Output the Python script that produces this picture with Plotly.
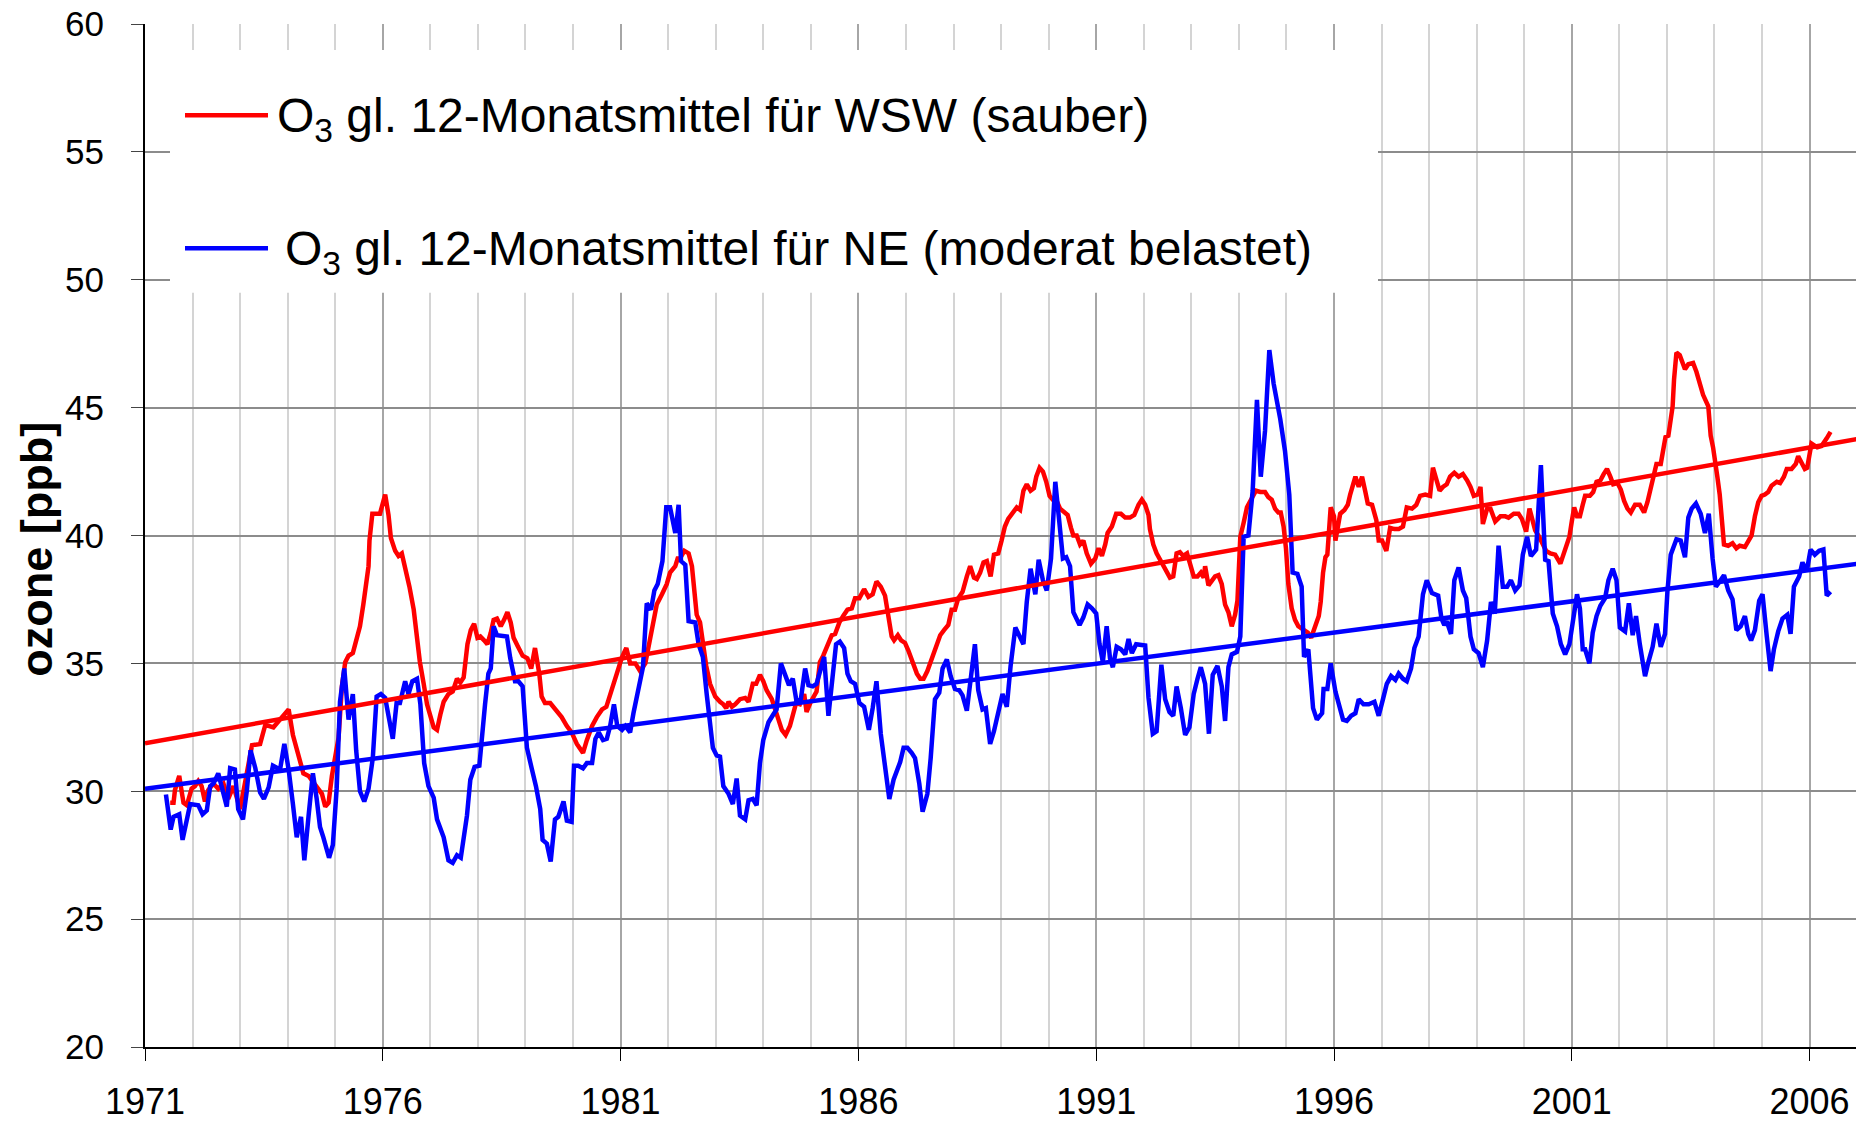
import plotly.graph_objects as go

# ---------------- data ----------------
wsw_year = [1971.53, 1971.60, 1971.63, 1971.72, 1971.77, 1971.81, 1971.88, 1971.95, 1971.98, 1972.05,
            1972.12, 1972.19, 1972.26, 1972.33, 1972.44, 1972.54, 1972.65, 1972.75, 1972.86, 1973.00,
            1973.14, 1973.25, 1973.42, 1973.53, 1973.70, 1973.81, 1973.91, 1974.02, 1974.11, 1974.23,
            1974.33, 1974.44, 1974.61, 1974.72, 1974.79, 1974.86, 1974.93, 1975.00, 1975.07, 1975.14,
            1975.21, 1975.28, 1975.37, 1975.42, 1975.52, 1975.59, 1975.65, 1975.70, 1975.72, 1975.78,
            1975.94, 1976.01, 1976.05, 1976.12, 1976.17, 1976.26, 1976.33, 1976.40, 1976.47, 1976.56,
            1976.65, 1976.72, 1976.78, 1976.86, 1976.93,
            1977.07, 1977.14, 1977.21, 1977.28, 1977.38, 1977.47, 1977.56, 1977.63, 1977.70, 1977.73,
            1977.78, 1977.85, 1977.92, 1977.99, 1978.05, 1978.13, 1978.20, 1978.27, 1978.33, 1978.40,
            1978.48, 1978.55, 1978.62, 1978.69, 1978.75, 1978.83, 1978.94, 1979.04, 1979.12, 1979.20,
            1979.29, 1979.34, 1979.41, 1979.52, 1979.62, 1979.76, 1979.87, 1979.97, 1980.08, 1980.21,
            1980.29, 1980.40, 1980.50, 1980.61, 1980.70, 1980.78, 1980.85, 1980.93, 1981.03, 1981.12,
            1981.20, 1981.31, 1981.41, 1981.52, 1981.62, 1981.69, 1981.76, 1981.87, 1981.97, 1982.04,
            1982.15, 1982.20, 1982.25, 1982.34, 1982.43, 1982.50, 1982.57, 1982.60, 1982.67, 1982.73,
            1982.80, 1982.88, 1982.99, 1983.09,
            1983.16, 1983.22, 1983.27, 1983.34, 1983.41, 1983.51, 1983.62, 1983.69, 1983.78, 1983.85,
            1983.93, 1984.00, 1984.07, 1984.18, 1984.25, 1984.32, 1984.39, 1984.47, 1984.56, 1984.63,
            1984.69, 1984.77, 1984.86, 1984.91, 1985.00, 1985.12, 1985.19, 1985.26, 1985.33, 1985.44,
            1985.51, 1985.60, 1985.68, 1985.77, 1985.86, 1985.93, 1986.02, 1986.12, 1986.21, 1986.30,
            1986.38, 1986.47, 1986.56, 1986.63, 1986.70, 1986.75, 1986.83, 1986.90, 1986.98, 1987.05,
            1987.12, 1987.23, 1987.30, 1987.37, 1987.45, 1987.54, 1987.63, 1987.72, 1987.80, 1987.89,
            1987.96, 1988.03, 1988.10, 1988.19, 1988.28, 1988.35, 1988.43, 1988.49, 1988.56, 1988.63,
            1988.70, 1988.78, 1988.85, 1988.94, 1989.01, 1989.08, 1989.15,
            1989.26, 1989.33, 1989.40, 1989.47, 1989.54, 1989.62, 1989.69, 1989.74, 1989.81, 1989.88,
            1989.95, 1990.02, 1990.09, 1990.17, 1990.24, 1990.33, 1990.40, 1990.47, 1990.52, 1990.59,
            1990.66, 1990.73, 1990.80, 1990.89, 1990.98, 1991.05, 1991.12, 1991.19, 1991.24, 1991.33,
            1991.42, 1991.52, 1991.61, 1991.71, 1991.80, 1991.89, 1991.96, 1992.03, 1992.10, 1992.13,
            1992.20, 1992.27, 1992.34, 1992.41, 1992.48, 1992.55, 1992.62, 1992.69, 1992.76, 1992.83,
            1992.91, 1992.98, 1993.05, 1993.13, 1993.20, 1993.26, 1993.29, 1993.36, 1993.43, 1993.50,
            1993.57, 1993.64, 1993.71, 1993.78, 1993.85, 1993.92, 1993.97, 1994.03, 1994.10, 1994.17,
            1994.24, 1994.31, 1994.36, 1994.45, 1994.55, 1994.62, 1994.69, 1994.76, 1994.83, 1994.88,
            1994.94, 1994.99, 1995.04, 1995.11, 1995.18, 1995.25, 1995.36, 1995.45,
            1995.52, 1995.61, 1995.68, 1995.72, 1995.77, 1995.82, 1995.86, 1995.93, 1996.00, 1996.03,
            1996.10, 1996.13, 1996.22, 1996.29, 1996.34, 1996.40, 1996.45, 1996.52, 1996.59, 1996.66,
            1996.71, 1996.80, 1996.89, 1996.94, 1997.01, 1997.10, 1997.18, 1997.27, 1997.36, 1997.45,
            1997.53, 1997.64, 1997.73, 1997.81, 1997.92, 1998.02, 1998.08, 1998.15, 1998.22, 1998.29,
            1998.37, 1998.44, 1998.53, 1998.62, 1998.71, 1998.80, 1998.87, 1998.94, 1999.02, 1999.08,
            1999.13, 1999.22, 1999.29, 1999.39, 1999.50, 1999.60, 1999.67, 1999.78, 1999.88, 1999.95,
            2000.04, 2000.11, 2000.16, 2000.23, 2000.30, 2000.37, 2000.46, 2000.55, 2000.65, 2000.76,
            2000.83, 2000.90, 2000.95, 2001.00, 2001.05, 2001.11, 2001.17,
            2001.23, 2001.28, 2001.38, 2001.45, 2001.52, 2001.60, 2001.67, 2001.74, 2001.81, 2001.87,
            2001.96, 2002.03, 2002.10, 2002.17, 2002.24, 2002.33, 2002.43, 2002.52, 2002.59, 2002.63,
            2002.68, 2002.73, 2002.78, 2002.87, 2002.92, 2002.97, 2003.03, 2003.06, 2003.12, 2003.15,
            2003.20, 2003.27, 2003.38, 2003.45, 2003.55, 2003.62, 2003.69, 2003.76, 2003.87, 2003.92,
            2003.97, 2004.01, 2004.06, 2004.11, 2004.17, 2004.20, 2004.29, 2004.38, 2004.46, 2004.53,
            2004.64, 2004.71, 2004.78, 2004.85, 2004.92, 2004.99, 2005.06, 2005.13, 2005.20, 2005.31,
            2005.38, 2005.46, 2005.52, 2005.62, 2005.71, 2005.76, 2005.83, 2005.90, 2005.95, 2006.01,
            2006.04, 2006.16, 2006.25, 2006.36, 2006.44]
wsw_val = [29.55, 29.55, 30.05, 30.6, 30.0, 29.55, 29.45, 29.9, 30.1, 30.2,
           30.4, 30.2, 29.6, 30.05, 30.3, 30.1, 30.3, 29.7, 30.2, 29.3,
           30.8, 31.8, 31.85, 32.6, 32.5, 32.75, 33.0, 33.2, 32.2, 31.3,
           30.7, 30.6, 30.2, 29.9, 29.4, 29.55, 30.6, 31.3, 32.1, 34.1,
           35.05, 35.3, 35.4, 35.75, 36.45, 37.3, 38.0, 38.8, 39.8, 40.85,
           40.85, 41.35, 41.6, 40.8, 39.9, 39.4, 39.2, 39.3, 38.8, 38.0,
           37.1, 35.9, 35.05, 34.2, 33.4,
           32.5, 32.4, 33.0, 33.5, 33.8, 33.9, 34.4, 34.25, 34.45, 35.1,
           35.75, 36.3, 36.55, 36.0, 36.05, 35.9, 35.75, 36.2, 36.7, 36.75,
           36.45, 36.7, 37.0, 36.6, 36.0, 35.7, 35.3, 35.2, 34.8, 35.6,
           34.6, 33.7, 33.45, 33.45, 33.2, 32.9, 32.55, 32.3, 31.85, 31.5,
           32.0, 32.55, 32.9, 33.2, 33.3, 33.8, 34.2, 34.75, 35.25, 35.6,
           35.0, 35.0, 34.7, 35.0, 35.9, 36.7, 37.3, 37.7, 38.1, 38.55,
           38.8, 39.1, 39.1, 39.4, 39.3, 38.8, 37.7, 36.9, 36.6, 35.75,
           34.9, 34.2, 33.7, 33.5,
           33.4, 33.25, 33.5, 33.3, 33.4, 33.6, 33.65, 33.5, 34.2, 34.2,
           34.55, 34.3, 33.95, 33.6, 33.25, 32.8, 32.4, 32.2, 32.55, 33.1,
           33.45, 33.4, 33.8, 33.1, 33.5, 33.9, 35.05, 35.3, 35.6, 36.1,
           36.15, 36.6, 36.85, 37.1, 37.15, 37.55, 37.55, 37.9, 37.6, 37.7,
           38.2, 38.0, 37.65, 36.9, 36.05, 35.9, 36.1, 35.9, 35.8, 35.5,
           35.1, 34.6, 34.4, 34.4, 34.7, 35.2, 35.7, 36.1, 36.3, 36.5,
           37.1, 37.1, 37.55, 37.8, 38.4, 38.8, 38.35, 38.3, 38.55, 38.95,
           39.0, 38.4, 39.25, 39.3, 39.8, 40.35, 40.65,
           40.9, 41.1, 41.0, 41.75, 42.0, 41.75, 41.85, 42.3, 42.65, 42.5,
           42.1, 41.55, 41.4, 41.35, 41.05, 40.9, 40.8, 40.3, 40.0, 40.0,
           39.65, 39.8, 39.3, 38.9, 39.1, 39.5, 39.2, 39.65, 40.1, 40.35,
           40.85, 40.85, 40.7, 40.7, 40.8, 41.2, 41.4, 41.2, 40.8, 40.25,
           39.65, 39.3, 39.05, 38.8, 38.55, 38.35, 38.4, 39.3, 39.35, 39.2,
           39.3, 38.9, 38.4, 38.4, 38.55, 38.35, 38.8, 38.05, 38.2, 38.4,
           38.45, 38.1, 37.3, 37.0, 36.45, 36.9, 37.45, 39.95, 40.5, 41.1,
           41.35, 41.55, 41.75, 41.7, 41.7, 41.5, 41.4, 41.05, 40.9, 40.9,
           40.35, 39.5, 38.1, 37.15, 36.7, 36.45, 36.3, 36.2,
           36.0, 36.45, 36.85, 37.4, 38.55, 39.15, 39.25, 41.1, 40.75, 39.8,
           40.7, 40.85, 41.0, 41.2, 41.6, 41.95, 42.3, 41.9, 42.3, 41.7,
           41.25, 41.2, 40.6, 39.8, 39.8, 39.4, 40.3, 40.25, 40.25, 40.35,
           41.1, 41.05, 41.2, 41.55, 41.6, 41.55, 42.65, 42.2, 41.75, 41.9,
           42.0, 42.3, 42.45, 42.3, 42.4, 42.15, 41.9, 41.55, 41.6, 41.9,
           40.45, 41.05, 41.05, 40.55, 40.75, 40.75, 40.7, 40.85, 40.85, 40.65,
           40.15, 41.05, 40.65, 40.2, 40.0, 39.75, 39.4, 39.3, 39.25, 38.9,
           39.3, 39.65, 39.95, 40.55, 41.1, 40.75, 40.75,
           41.2, 41.55, 41.55, 41.7, 42.1, 42.15, 42.4, 42.6, 42.3, 42.0,
           42.05, 41.8, 41.35, 41.05, 40.9, 41.2, 41.2, 40.9, 41.3, 41.6,
           42.15, 42.5, 42.8, 42.8, 43.3, 43.85, 43.9, 44.4, 45.05, 46.1,
           47.15, 47.05, 46.5, 46.7, 46.75, 46.4, 45.95, 45.5, 45.05, 43.9,
           43.45, 43.0, 42.3, 41.6, 40.5, 39.65, 39.6, 39.7, 39.5, 39.6,
           39.55, 39.8, 40.0, 40.75, 41.3, 41.55, 41.6, 41.7, 41.95, 42.1,
           42.05, 42.3, 42.6, 42.6, 42.8, 43.1, 42.8, 42.6, 42.65, 43.5,
           43.6, 43.45, 43.5, 43.8, 44.05]

ne_year = [1971.44, 1971.54, 1971.60, 1971.72, 1971.79, 1971.88, 1971.95, 1972.12, 1972.21, 1972.30,
           1972.37, 1972.44, 1972.54, 1972.61, 1972.72, 1972.79, 1972.89, 1972.96, 1973.06, 1973.14,
           1973.22, 1973.32, 1973.42, 1973.50, 1973.60, 1973.69, 1973.78, 1973.84, 1973.93, 1974.02,
           1974.11, 1974.19, 1974.28, 1974.35, 1974.44, 1974.53, 1974.61, 1974.68, 1974.75, 1974.87,
           1974.95, 1975.03, 1975.10, 1975.19, 1975.28, 1975.37, 1975.44, 1975.52, 1975.61, 1975.70,
           1975.79, 1975.87, 1975.96, 1976.05, 1976.21, 1976.29, 1976.36, 1976.47, 1976.54, 1976.62,
           1976.72, 1976.79, 1976.87, 1976.96,
           1977.07, 1977.14, 1977.28, 1977.38, 1977.47, 1977.56, 1977.64, 1977.70, 1977.77, 1977.84,
           1977.93, 1978.03, 1978.08, 1978.15, 1978.22, 1978.27, 1978.33, 1978.40, 1978.61, 1978.68,
           1978.78, 1978.85, 1978.94, 1978.99, 1979.03, 1979.13, 1979.22, 1979.31, 1979.36, 1979.45,
           1979.53, 1979.62, 1979.69, 1979.80, 1979.87, 1979.97, 1980.02, 1980.11, 1980.21, 1980.29,
           1980.40, 1980.47, 1980.54, 1980.63, 1980.71, 1980.78, 1980.86, 1980.93, 1981.03, 1981.10,
           1981.20, 1981.27, 1981.38, 1981.47, 1981.55, 1981.64, 1981.71, 1981.78, 1981.83, 1981.88,
           1981.96, 1982.04, 1982.15, 1982.22, 1982.27, 1982.36, 1982.43, 1982.57, 1982.64, 1982.73,
           1982.81, 1982.88, 1982.94, 1983.02, 1983.09,
           1983.16, 1983.27, 1983.36, 1983.44, 1983.51, 1983.62, 1983.69, 1983.78, 1983.86, 1983.93,
           1984.00, 1984.11, 1984.21, 1984.28, 1984.37, 1984.46, 1984.54, 1984.62, 1984.70, 1984.79,
           1984.88, 1984.95, 1985.04, 1985.12, 1985.21, 1985.28, 1985.37, 1985.44, 1985.53, 1985.61,
           1985.70, 1985.77, 1985.84, 1985.93, 1986.02, 1986.12, 1986.22, 1986.30, 1986.38, 1986.47,
           1986.56, 1986.65, 1986.74, 1986.81, 1986.88, 1986.95, 1987.03, 1987.12, 1987.19, 1987.28,
           1987.35, 1987.45, 1987.52, 1987.61, 1987.70, 1987.77, 1987.86, 1987.94, 1988.03, 1988.12,
           1988.19, 1988.28, 1988.36, 1988.45, 1988.52, 1988.61, 1988.68, 1988.77, 1988.85, 1988.94,
           1989.03, 1989.12, 1989.20,
           1989.30, 1989.39, 1989.47, 1989.54, 1989.62, 1989.72, 1989.79, 1989.88, 1989.96, 1990.05,
           1990.14, 1990.21, 1990.30, 1990.37, 1990.45, 1990.52, 1990.58, 1990.65, 1990.73, 1990.82,
           1990.91, 1991.00, 1991.07, 1991.14, 1991.22, 1991.29, 1991.35, 1991.43, 1991.52, 1991.61,
           1991.68, 1991.75, 1991.84, 1991.94, 1992.03, 1992.10, 1992.19, 1992.27, 1992.37, 1992.45,
           1992.54, 1992.62, 1992.69, 1992.78, 1992.87, 1992.96, 1993.05, 1993.13, 1993.20, 1993.29,
           1993.37, 1993.45, 1993.55, 1993.64, 1993.71, 1993.78, 1993.85, 1993.96, 1994.03, 1994.10,
           1994.20, 1994.29, 1994.38, 1994.46, 1994.55, 1994.64, 1994.73, 1994.87, 1994.97, 1995.06,
           1995.13, 1995.23, 1995.32, 1995.37, 1995.46,
           1995.56, 1995.64, 1995.75, 1995.78, 1995.86, 1995.93, 1996.03, 1996.10, 1996.19, 1996.27,
           1996.36, 1996.45, 1996.52, 1996.62, 1996.73, 1996.85, 1996.94, 1997.03, 1997.11, 1997.20,
           1997.29, 1997.36, 1997.45, 1997.53, 1997.62, 1997.69, 1997.78, 1997.87, 1997.95, 1998.06,
           1998.19, 1998.26, 1998.32, 1998.37, 1998.46, 1998.53, 1998.62, 1998.71, 1998.78, 1998.87,
           1998.94, 1999.04, 1999.13, 1999.22, 1999.30, 1999.38, 1999.46, 1999.55, 1999.64, 1999.72,
           1999.81, 1999.90, 1999.97, 2000.06, 2000.14, 2000.25, 2000.35, 2000.44, 2000.51, 2000.60,
           2000.69, 2000.77, 2000.86, 2000.95, 2001.04, 2001.11, 2001.17,
           2001.23, 2001.28, 2001.37, 2001.44, 2001.52, 2001.60, 2001.70, 2001.77, 2001.86, 2001.94,
           2002.01, 2002.12, 2002.20, 2002.28, 2002.35, 2002.43, 2002.54, 2002.61, 2002.70, 2002.78,
           2002.87, 2002.96, 2003.01, 2003.08, 2003.20, 2003.29, 2003.38, 2003.45, 2003.52, 2003.61,
           2003.71, 2003.80, 2003.88, 2003.96, 2004.03, 2004.11, 2004.20, 2004.29, 2004.38, 2004.46,
           2004.55, 2004.64, 2004.71, 2004.77, 2004.85, 2004.94, 2005.01, 2005.10, 2005.18, 2005.25,
           2005.34, 2005.43, 2005.53, 2005.60, 2005.67, 2005.78, 2005.85, 2005.94, 2006.02, 2006.11,
           2006.20, 2006.29, 2006.36, 2006.44]
ne_val = [29.87, 28.5, 29.0, 29.1, 28.1, 28.8, 29.5, 29.45, 29.1, 29.25,
          30.2, 30.3, 30.7, 30.2, 29.4, 30.9, 30.85, 29.3, 28.9, 30.0,
          31.6, 30.9, 29.95, 29.7, 30.15, 31.0, 30.9, 30.85, 31.85, 30.85,
          29.5, 28.2, 29.0, 27.3, 29.05, 30.7, 29.7, 28.6, 28.2, 27.4,
          27.9, 30.1, 33.5, 34.8, 32.8, 33.8, 31.6, 30.0, 29.6, 30.1,
          31.3, 33.7, 33.8, 33.65, 32.05, 33.45, 33.45, 34.3, 33.8, 34.3,
          34.4, 33.4, 31.1, 30.2,
          29.75, 28.9, 28.2, 27.3, 27.2, 27.5, 27.4, 28.2, 29.05, 30.45,
          30.95, 31.0, 32.1, 33.4, 34.6, 34.8, 36.45, 36.1, 36.05, 35.2,
          34.3, 34.3, 34.1, 32.4, 31.7, 30.9, 30.2, 29.3, 28.1, 27.95,
          27.25, 28.9, 29.0, 29.6, 28.85, 28.8, 31.0, 31.0, 30.9, 31.1,
          31.1, 32.05, 32.3, 32.0, 32.05, 32.55, 33.4, 32.55, 32.4, 32.55,
          32.3, 33.05, 34.1, 34.85, 37.35, 37.1, 37.85, 38.1, 38.55, 39.0,
          41.1, 41.1, 40.1, 41.2, 39.0, 38.85, 36.65, 36.6, 35.75, 35.25,
          33.8, 32.7, 31.7, 31.4, 31.35,
          30.2, 29.9, 29.5, 30.5, 29.05, 28.9, 29.65, 29.7, 29.45, 31.1,
          32.0, 32.7, 33.0, 33.2, 35.0, 34.5, 34.15, 34.4, 33.5, 33.6,
          34.8, 34.15, 34.1, 34.2, 34.8, 35.25, 32.95, 34.2, 35.75, 35.85,
          35.6, 34.6, 34.3, 34.2, 33.45, 33.3, 32.4, 33.25, 34.3, 32.25,
          30.85, 29.7, 30.45, 30.85, 31.15, 31.7, 31.7, 31.5, 31.3, 30.3,
          29.2, 29.9, 31.3, 33.6, 33.85, 34.8, 35.15, 34.5, 34.0, 33.95,
          33.75, 33.15, 34.35, 35.75, 33.95, 33.2, 33.25, 31.85, 32.35, 33.05,
          33.8, 33.3, 34.9,
          36.4, 36.05, 35.75, 37.4, 38.7, 37.7, 39.05, 38.25, 37.85, 39.1,
          42.1, 40.8, 39.1, 39.15, 38.8, 37.0, 36.8, 36.5, 36.8, 37.3,
          37.15, 36.95, 35.75, 35.05, 36.45, 35.2, 34.85, 35.65, 35.55, 35.35,
          35.95, 35.4, 35.75, 35.7, 35.7, 33.65, 32.25, 32.35, 34.95, 33.6,
          33.1, 32.95, 34.1, 33.25, 32.2, 32.5, 33.8, 34.4, 34.85, 34.2,
          32.25, 34.55, 34.9, 34.1, 32.75, 34.85, 35.35, 35.45, 36.05, 39.95,
          40.0, 41.75, 45.3, 42.3, 44.1, 47.25, 45.95, 44.55, 43.3, 41.6,
          38.55, 38.5, 38.0, 35.25, 35.55,
          33.25, 32.8, 33.05, 34.0, 34.0, 35.0, 33.9, 33.45, 32.8, 32.75,
          32.95, 33.05, 33.6, 33.4, 33.4, 33.5, 32.95, 33.6, 34.2, 34.5,
          34.35, 34.6, 34.4, 34.3, 34.8, 35.6, 36.05, 37.7, 38.25, 37.75,
          37.65, 36.75, 36.5, 36.65, 36.15, 38.25, 38.75, 37.85, 37.55, 36.05,
          35.55, 35.4, 34.85, 35.9, 37.4, 36.95, 39.6, 38.0, 38.0, 38.25,
          37.85, 38.05, 39.25, 39.95, 39.2, 39.45, 42.75, 39.05, 39.0, 36.95,
          36.45, 35.75, 35.35, 35.75, 36.85, 37.7, 37.15,
          35.55, 35.55, 35.0, 36.2, 36.85, 37.25, 37.55, 38.25, 38.7, 38.25,
          36.4, 36.25, 37.35, 36.1, 36.85, 35.75, 34.5, 35.05, 35.65, 36.55,
          35.65, 36.15, 37.8, 39.25, 39.85, 39.8, 39.15, 40.7, 41.05, 41.25,
          40.85, 40.1, 40.85, 39.1, 38.0, 38.2, 38.45, 37.85, 37.5, 36.3,
          36.45, 36.85, 36.15, 35.9, 36.3, 37.45, 37.7, 36.05, 34.7, 35.55,
          36.25, 36.75, 36.9, 36.15, 38.0, 38.4, 38.95, 38.6, 39.45, 39.25,
          39.4, 39.45, 37.65, 37.8]

# linear trend lines (end points)
trend_year = [1971.0, 2007.0]
trend_wsw = [31.88, 43.77]
trend_ne = [30.10, 38.89]

legend_labels = ["O<sub>3</sub> gl. 12-Monatsmittel für WSW (sauber)",
                 "O<sub>3</sub> gl. 12-Monatsmittel für NE (moderat belastet)"]
y_title = "ozone [ppb]"
x_tick_vals = [1971, 1976, 1981, 1986, 1991, 1996, 2001, 2006]
y_tick_vals = [20, 25, 30, 35, 40, 45, 50, 55, 60]

RED = "#FF0000"
BLUE = "#0000FF"
FONT = "Liberation Sans, Arial, sans-serif"

W, H = 1856, 1121
L, R, T, B = 145, 1856, 24, 1047.5


def px_x(p):
    return (p - L) / (R - L)


def px_y(p):
    return (B - p) / (B - T)


fig = go.Figure()
fig.add_trace(go.Scatter(x=wsw_year, y=wsw_val, mode="lines",
                         line=dict(color=RED, width=4.5), showlegend=False))
fig.add_trace(go.Scatter(x=ne_year, y=ne_val, mode="lines",
                         line=dict(color=BLUE, width=4.5), showlegend=False))
fig.add_trace(go.Scatter(x=trend_year, y=trend_wsw, mode="lines",
                         line=dict(color=RED, width=4.5), showlegend=False))
fig.add_trace(go.Scatter(x=trend_year, y=trend_ne, mode="lines",
                         line=dict(color=BLUE, width=4.5), showlegend=False))

shapes = [
    dict(type="rect", xref="paper", yref="paper", layer="above",
         x0=px_x(170), x1=px_x(1378), y0=px_y(293), y1=px_y(50),
         fillcolor="white", line=dict(width=0)),
    dict(type="line", xref="paper", yref="paper", layer="above",
         x0=px_x(185), x1=px_x(268), y0=px_y(115.3), y1=px_y(115.3),
         line=dict(color=RED, width=4.5)),
    dict(type="line", xref="paper", yref="paper", layer="above",
         x0=px_x(185), x1=px_x(268), y0=px_y(248.3), y1=px_y(248.3),
         line=dict(color=BLUE, width=4.5)),
]

annotations = [
    dict(text=legend_labels[0], xref="paper", yref="paper", x=px_x(275), y=px_y(119),
         xanchor="left", yanchor="middle", showarrow=False,
         font=dict(family=FONT, size=48, color="black")),
    dict(text=legend_labels[1], xref="paper", yref="paper", x=px_x(283), y=px_y(252),
         xanchor="left", yanchor="middle", showarrow=False,
         font=dict(family=FONT, size=48, color="black")),
    dict(text="<b>" + y_title + "</b>", xref="paper", yref="paper", x=px_x(37), y=px_y(550),
         xanchor="center", yanchor="middle", textangle=-90, showarrow=False,
         font=dict(family=FONT, size=45, color="black")),
]

fig.update_layout(
    width=W, height=H,
    margin=dict(l=L, r=W - R, t=T, b=H - B, pad=0, autoexpand=False),
    paper_bgcolor="white", plot_bgcolor="white",
    font=dict(family=FONT, color="black"),
    shapes=shapes, annotations=annotations,
    showlegend=False,
)

fig.update_xaxes(
    range=[1971, 1971 + (R - L) / 47.56],
    automargin=False,
    tickmode="array", tickvals=x_tick_vals, ticktext=[str(v) for v in x_tick_vals],
    ticks="outside", ticklen=12, tickwidth=1, tickcolor="black",
    tickfont=dict(size=36, family=FONT, color="black"),
    ticklabelstandoff=10,
    showline=True, linecolor="black", linewidth=2,
    showgrid=True, gridcolor="#a6a6a6", gridwidth=1.5,
    minor=dict(dtick=1, tick0=1971, showgrid=True, gridcolor="#d4d4d4", gridwidth=1.5, ticks=""),
    zeroline=False,
)
fig.update_yaxes(
    range=[20, 60],
    automargin=False,
    tickmode="array", tickvals=y_tick_vals,
    ticks="outside", ticklen=12, tickwidth=1, tickcolor="#444444",
    tickfont=dict(size=35, family=FONT, color="black"),
    ticklabelstandoff=20,
    showline=True, linecolor="black", linewidth=2,
    showgrid=True, gridcolor="#8c8c8c", gridwidth=1.5,
    zeroline=False,
)

fig.write_html(
    "out.html",
    config={"displayModeBar": False},
    post_script="document.body.style.margin='0px';document.body.style.overflow='hidden';",
)
